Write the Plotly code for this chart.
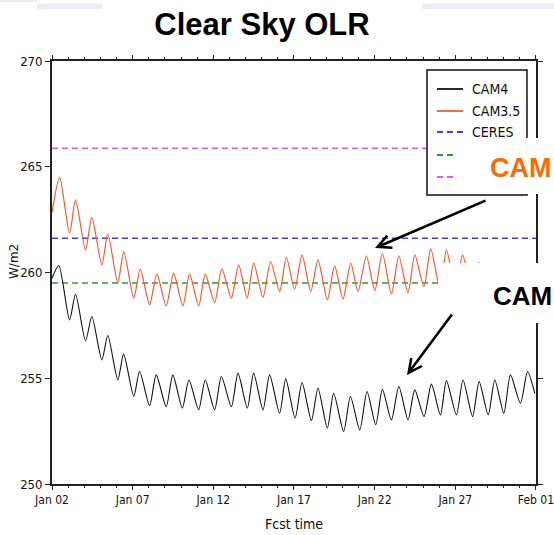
import plotly.graph_objects as go
import pandas as pd

# ---------------- data ----------------
start_date = "2009-01-02"
end_date = "2009-02-01"

cam4_days = [0.00, 0.42, 1.09, 1.46, 2.08, 2.47, 3.09, 3.46, 4.08, 4.44, 5.07, 5.43, 6.05, 6.46,
             7.08, 7.49, 8.08, 8.49, 9.09, 9.50, 10.08, 10.50, 11.12, 11.53, 12.11, 12.50, 13.08,
             13.49, 14.11, 14.49, 15.07, 15.50, 16.08, 16.49, 17.07, 17.46, 18.08, 18.50, 19.08,
             19.53, 20.07, 20.48, 21.04, 21.50, 22.07, 22.49, 23.06, 23.52, 24.08, 24.45, 25.07,
             25.48, 26.07, 26.48, 27.04, 27.45, 28.01, 28.42, 29.04, 29.48, 29.93]
cam4_vals = [259.73, 260.33, 257.76, 258.97, 256.77, 257.92, 255.87, 257.02, 254.92, 256.14,
             254.14, 255.32, 253.71, 255.16, 253.66, 255.16, 253.59, 254.92, 253.51, 254.92,
             253.51, 255.08, 253.66, 255.24, 253.59, 255.24, 253.51, 255.16, 253.35, 254.97,
             253.12, 254.80, 253.00, 254.53, 252.64, 254.29, 252.48, 254.14, 252.56, 254.37,
             252.80, 254.48, 253.03, 254.61, 253.03, 254.45, 253.19, 254.72, 253.27, 254.89,
             253.27, 254.92, 253.19, 254.84, 253.27, 254.92, 253.35, 255.16, 253.82, 255.32,
             254.29]

cam35_days = [0.00, 0.47, 1.09, 1.46, 2.08, 2.47, 3.09, 3.46, 4.08, 4.45, 5.07, 5.47, 6.05, 6.50,
              7.08, 7.54, 8.11, 8.53, 9.09, 9.50, 10.08, 10.53, 11.12, 11.57, 12.10, 12.50, 13.08,
              13.55, 14.11, 14.53, 15.04, 15.50, 16.04, 16.49, 17.07, 17.52, 18.04, 18.52, 18.97,
              19.49, 20.01, 20.48, 21.04, 21.50, 22.07, 22.49, 23.06, 23.48, 24.06, 24.45, 25.03,
              25.45, 26.02, 26.46, 27.02]
cam35_vals = [262.83, 264.50, 261.86, 263.43, 261.07, 262.61, 260.36, 261.82, 259.52, 260.99,
              258.79, 260.16, 258.47, 259.92, 258.42, 259.97, 258.42, 259.92, 258.42, 259.92,
              258.58, 260.17, 258.79, 260.36, 258.79, 260.44, 258.83, 260.52, 259.10, 260.71,
              259.21, 260.83, 259.10, 260.60, 258.71, 260.31, 258.74, 260.44, 259.10, 260.78,
              259.14, 260.91, 258.99, 260.78, 259.05, 260.83, 259.33, 261.12, 259.20, 261.07,
              259.20, 260.83, 259.20, 260.47, 259.00]

ref_names = ["CERES", "obs2", "obs3"]
ref_vals = [261.62, 259.50, 265.87]
ref_colors = ["#3d3dff", "#2f9a2f", "#e05ce0"]

legend_labels = ["CAM4", "CAM3.5", "CERES"]
x_tick_dates = ["2009-01-02", "2009-01-07", "2009-01-12", "2009-01-17",
                "2009-01-22", "2009-01-27", "2009-02-01"]
x_tick_labels = ["Jan 02", "Jan 07", "Jan 12", "Jan 17", "Jan 22", "Jan 27", "Feb 01"]
y_ticks = [250, 255, 260, 265, 270]

# ---------------- geometry helpers ----------------
W, H = 554, 535
L, R, T, B = 52, 18, 61, 51
PW, PH = W - L - R, H - T - B


def px(x):
    return (x - L) / PW


def py(y):
    return (H - B - y) / PH


t0 = pd.Timestamp(start_date)
cam4_t = t0 + pd.to_timedelta(cam4_days, unit="D")
cam35_t = t0 + pd.to_timedelta(cam35_days, unit="D")

fig = go.Figure()

# reference (observed) lines
for name, val, col in zip(ref_names, ref_vals, ref_colors):
    fig.add_trace(go.Scatter(x=[start_date, end_date], y=[val, val], mode="lines",
                             line=dict(color=col, width=1.5, dash="6px,4px"),
                             name=name, showlegend=False, hoverinfo="skip"))

fig.add_trace(go.Scatter(x=cam35_t, y=cam35_vals, mode="lines", name="CAM3.5",
                         line=dict(color="#ff5530", width=1.2, shape="spline", smoothing=0.7),
                         showlegend=False))
fig.add_trace(go.Scatter(x=cam4_t, y=cam4_vals, mode="lines", name="CAM4",
                         line=dict(color="#111111", width=1.1, shape="spline", smoothing=0.7),
                         showlegend=False))

narrow = "Liberation Sans Narrow, DejaVu Sans Condensed, Arial Narrow, sans-serif"

shapes = []
# faint slide decoration at top
shapes.append(dict(type="rect", xref="paper", yref="paper", x0=px(0), x1=px(37), y0=py(2), y1=py(0),
                   fillcolor="#ececf8", line=dict(width=0), layer="below"))
shapes.append(dict(type="rect", xref="paper", yref="paper", x0=px(37), x1=px(102), y0=py(9), y1=py(3.5),
                   fillcolor="#ececf8", line=dict(width=0), layer="below"))
shapes.append(dict(type="rect", xref="paper", yref="paper", x0=px(422), x1=px(554), y0=py(9), y1=py(3.5),
                   fillcolor="#ececf8", line=dict(width=0), layer="below"))

# manual legend box
shapes.append(dict(type="rect", xref="paper", yref="paper", x0=px(427), x1=px(527), y0=py(195), y1=py(70),
                   fillcolor="white", line=dict(color="#111111", width=1.5), layer="above"))
legend_rows = [89, 111, 132, 155, 177]
legend_styles = [("#111111", "solid"), ("#ff5530", "solid"), (ref_colors[0], "6px,4px"),
                 (ref_colors[1], "6px,4px"), (ref_colors[2], "6px,4px")]
for yy, (col, dsh) in zip(legend_rows, legend_styles):
    shapes.append(dict(type="line", xref="paper", yref="paper", x0=px(437), x1=px(463),
                       y0=py(yy), y1=py(yy), line=dict(color=col, width=1.8, dash=dsh), layer="above"))

annotations = []
for lab, yy in zip(legend_labels, legend_rows):
    annotations.append(dict(text=lab, xref="paper", yref="paper", x=px(470), y=py(yy),
                            xanchor="left", yanchor="middle", showarrow=False,
                            font=dict(family=narrow, size=14, color="#111111")))

# white text boxes from the slide
annotations.append(dict(text=" ", xref="paper", yref="paper", x=px(455), y=py(138),
                        xanchor="left", yanchor="top", width=130, height=56, bgcolor="white",
                        borderpad=0, borderwidth=0, showarrow=False))
annotations.append(dict(text=" ", xref="paper", yref="paper", x=px(438), y=py(263),
                        xanchor="left", yanchor="top", width=140, height=60, bgcolor="white",
                        borderpad=0, borderwidth=0, showarrow=False))
annotations.append(dict(text="<b>CAM</b>", xref="paper", yref="paper", x=px(553), y=py(168),
                        xanchor="right", yanchor="middle", showarrow=False, borderpad=0,
                        font=dict(family="Liberation Sans, Arial, sans-serif", size=27, color="#ff6a00")))
annotations.append(dict(text="<b>CAM</b>", xref="paper", yref="paper", x=px(553), y=py(296),
                        xanchor="right", yanchor="middle", showarrow=False, borderpad=0,
                        font=dict(family="Liberation Sans, Arial, sans-serif", size=26, color="#000000")))

# arrows
annotations.append(dict(text="", xref="paper", yref="paper", x=px(375), y=py(248), ax=112, ay=-48,
                        showarrow=True, arrowhead=5, arrowsize=1.0, arrowwidth=2.6, arrowcolor="#000000",
                        standoff=0, startstandoff=0))
annotations.append(dict(text="", xref="paper", yref="paper", x=px(407), y=py(375), ax=46, ay=-62,
                        showarrow=True, arrowhead=5, arrowsize=1.0, arrowwidth=2.6, arrowcolor="#000000",
                        standoff=0, startstandoff=0))

# axis titles
annotations.append(dict(text="W/m2", xref="paper", yref="paper", x=px(14), y=py(262), textangle=-90,
                        xanchor="center", yanchor="middle", showarrow=False,
                        font=dict(family="DejaVu Sans, sans-serif", size=12, color="#111111")))
annotations.append(dict(text="Fcst time", xref="paper", yref="paper", x=px(294), y=py(524),
                        xanchor="center", yanchor="middle", showarrow=False,
                        font=dict(family=narrow, size=14, color="#111111")))

fig.update_layout(
    width=W, height=H,
    margin=dict(l=L, r=R, t=T, b=B, autoexpand=False),
    paper_bgcolor="white", plot_bgcolor="white",
    showlegend=False,
    title=dict(text="<b>Clear Sky OLR</b>", x=262 / W, y=1 - 24 / H, xref="container", yref="container",
               xanchor="center", yanchor="middle",
               font=dict(family="Liberation Sans, Arial, sans-serif", size=31, color="#000000")),
    shapes=shapes,
    annotations=annotations,
)

fig.update_xaxes(
    type="date", range=[start_date, "2009-02-01 00:05"], automargin=False,
    tickvals=x_tick_dates, ticktext=x_tick_labels, ticklabeloverflow="allow",
    showline=True, linecolor="#222222", linewidth=1.8, mirror="ticks",
    ticks="outside", ticklen=4, tickwidth=1.2, tickcolor="#222222",
    minor=dict(dtick=86400000, tick0=start_date, ticks="outside", ticklen=2.5, tickwidth=1,
               tickcolor="#222222"),
    showgrid=False, zeroline=False,
    tickfont=dict(family=narrow, size=12, color="#111111"),
)
fig.update_yaxes(
    range=[250, 270], tickvals=y_ticks, automargin=False,
    showline=True, linecolor="#222222", linewidth=1.8, mirror="ticks",
    ticks="outside", ticklen=5, tickwidth=1.2, tickcolor="#222222",
    showgrid=False, zeroline=False,
    tickfont=dict(family=narrow, size=13, color="#111111"),
)

fig.write_html("out.html")
